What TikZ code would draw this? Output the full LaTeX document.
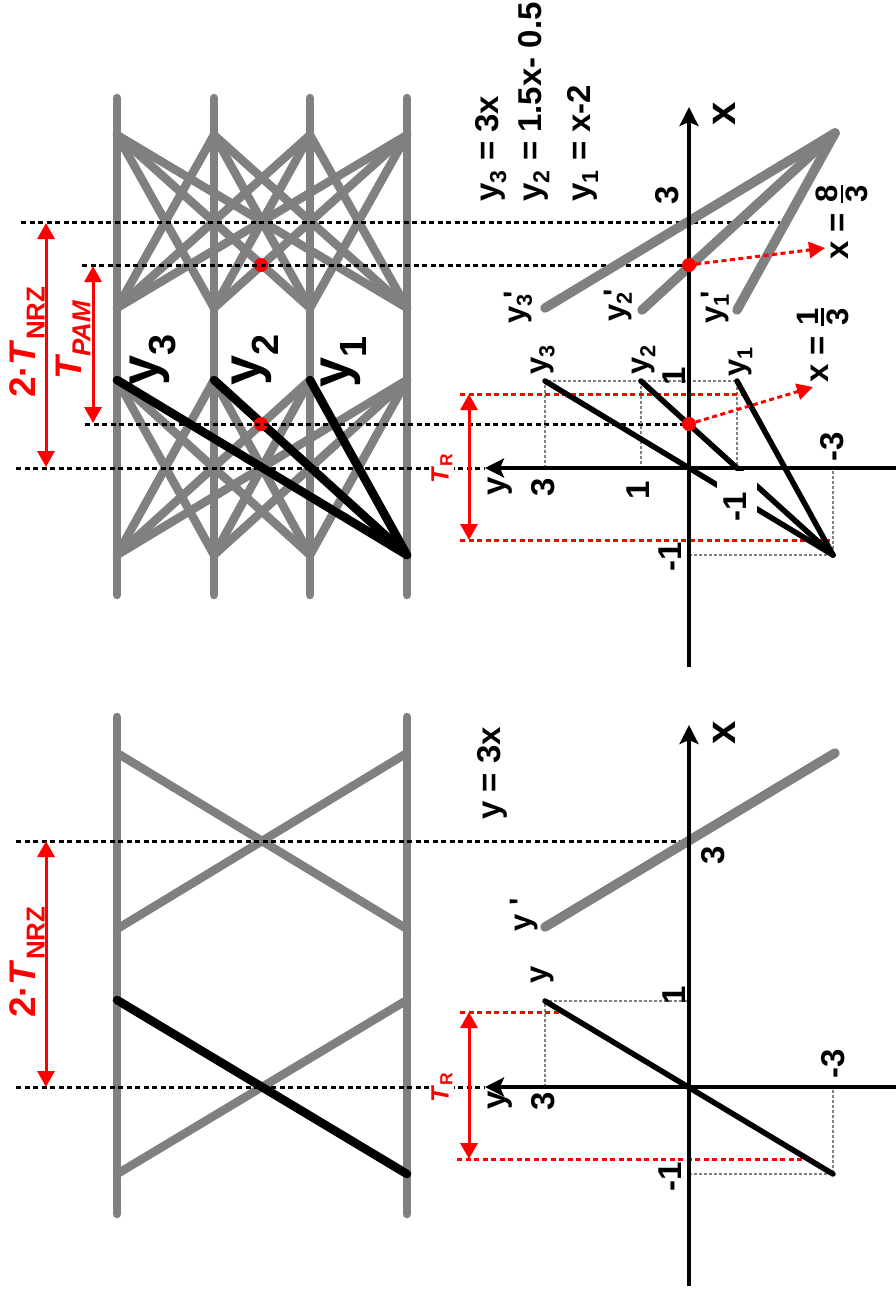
\documentclass[tikz,border=0pt]{standalone}
\usepackage{amsmath}
\usepackage{fontspec}
\setmainfont{Liberation Sans}
\usetikzlibrary{arrows.meta}
\newcommand{\fs}[1]{\fontsize{#1}{#1}\selectfont}
\newcommand{\vfrac}[2]{$\genfrac{}{}{2.5pt}{}{\hbox{\fs{31}\bfseries #1}}{\hbox{\fs{31}\bfseries #2}}$}

\begin{document}
\begin{tikzpicture}[x=1pt, y=-1pt,
  eye/.style={gray, line width=8.5pt, line cap=round},
  eyehit/.style={black, line width=8.5pt, line cap=round},
  prime/.style={gray, line width=9.5pt, line cap=round},
  plain/.style={black, line width=5.5pt, line cap=round},
  axis/.style={line width=3.5pt, -{Stealth[width=19pt, length=19pt, inset=4pt]}},
  tmark/.style={line width=3pt, dash pattern=on 5pt off 3.5pt},
  rmark/.style={red, line width=3pt, dash pattern=on 5pt off 3.5pt},
  guide/.style={gray, line width=1.8pt, dash pattern=on 3pt off 2pt},
  span/.style={red, line width=3pt,
    {Triangle[width=17pt, length=16pt]}-{Triangle[width=17pt, length=16pt]}},
  hint/.style={red, line width=3pt, dash pattern=on 5pt off 3.5pt,
    -{Triangle[width=16pt, length=16pt]}},
  dot/.style={circle, fill=red, inner sep=0pt, minimum size=14pt},
  lbl/.style={rotate=90, inner sep=1pt, font=\bfseries\fs{33}},
  big/.style={lbl, font=\bfseries\fs{54}},
  tag/.style={lbl, font=\bfseries\fs{31}},
  period/.style={lbl, text=red, font=\bfseries\fs{37}},
  rise/.style={lbl, text=red, fill=white, font=\bfseries\fs{25}, inner sep=2pt}
]
\useasboundingbox (0,0) rectangle (896,1293);

% PAM4 eye
\foreach \a in {117,214,310,407} {
  \draw[eye] (\a,98) -- (\a,595);
  \foreach \b in {117,214,310,407} {
    \draw[eye] (\a,135) -- (\b,308);
    \draw[eye] (\a,380) -- (\b,555);
  }
}
\foreach \a in {117,214,310}
  \draw[eyehit] (\a,380) -- (407,555);
\node[dot] (c1) at (261,265) {};
\node[dot] (c2) at (261,424) {};

% NRZ eye
\foreach \a/\b in {117/407,407/117} {
  \draw[eye] (\a,717) -- (\a,1214);
  \draw[eye] (\a,753) -- (\b,929);
  \draw[eye] (\a,1000) -- (\b,1174);
}
\draw[eyehit] (117,1000) -- (407,1174);

% time marks
\draw[tmark] (21,222) -- (780,222);
\draw[tmark] (82,265) -- (689,265);
\draw[tmark] (85,424) -- (689,424);
\draw[tmark] (16,468) -- (485,468);
\draw[tmark] (16,841) -- (680,841);
\draw[tmark] (16,1087) -- (485,1087);

\draw[span] (46,223) -- (46,467);
\draw[span] (93,266) -- (93,423);
\draw[span] (46,841) -- (46,1087);
\node[period] (tnrz1) at (27,342) {2·\textit{T}\textsubscript{NRZ}};
\node[period] (tpam) at (73,340) {\textit{T\textsubscript{PAM}}};
\node[period] (tnrz2) at (27,962) {2·\textit{T}\textsubscript{NRZ}};

\node[big] (e3) at (153,360) {y\textsubscript{3}};
\node[big] (e2) at (255,360) {y\textsubscript{2}};
\node[big] (e1) at (344,362) {y\textsubscript{1}};

% upper plot
\coordinate (o1) at (689,468);
\coordinate (lo1) at (833,555);
\coordinate (hi1) at (835,133);
\draw[guide] (545,468) -- (545,381) -- (737,381) -- (737,468);
\draw[guide] (641,381) -- (641,468);
\draw[guide] (689,555) -- (833,555) -- (833,468);
\draw[rmark] (460,394) -- (745,394);
\draw[rmark] (460,540) -- (830,540);
\draw[span] (469,394) -- (469,540);
\node[rise] (tr1) at (442,468) {\textit{T}\textsubscript{R}};

\foreach \a in {545,641,737}
  \draw[plain] (\a,381) -- (lo1);
\draw[prime] (545,308) -- (hi1);
\draw[prime] (642,310) -- (hi1);
\draw[prime] (737,310) -- (hi1);

% gap for the -1 tick
\fill[white] (717,471) rectangle (757,520);

\draw[axis] (689,667) -- (689,107);
\draw[axis] (896,468) -- (485,468);
\node[lbl, font=\bfseries\fs{42}] (ax1) at (724,114) {x};
\node[lbl] (ay1) at (500,486) {y};

\node[lbl] (x3a) at (667,195) {3};
\node[lbl] (x1a) at (674,376) {1};
\node[lbl] (xma) at (670,557) {-1};
\node[lbl] (y3a) at (543,487) {3};
\node[lbl] (y1a) at (638,490) {1};
\node[lbl] (yma) at (735,507) {-1};
\node[lbl] (ymb) at (832,447) {-3};

\node[lbl, anchor=west] (eq3) at (491,203) {y\textsubscript{3} = 3x};
\node[lbl, anchor=west] (eq2) at (534,203) {y\textsubscript{2} = 1.5x- 0.5};
\node[lbl, anchor=west] (eq1) at (583,203) {y\textsubscript{1} = x-2};

\node[tag] (l3) at (543,360) {y\textsubscript{3}};
\node[tag] (l2) at (644,360) {y\textsubscript{2}};
\node[tag] (l1) at (741,362) {y\textsubscript{1}};
\node[tag] (p3) at (518,307) {y\textsubscript{3}\kern-0.15em\textquotesingle};
\node[tag] (p2) at (618,305) {y\textsubscript{2}\kern-0.15em\textquotesingle};
\node[tag] (p1) at (715,307) {y\textsubscript{1}\kern-0.15em\textquotesingle};

\node[dot] (g1) at (689,424) {};
\node[dot] (g2) at (689,265) {};
\node[lbl] (f1) at (823,345) {x = \vfrac{1}{3}};
\node[lbl] (f2) at (842,222) {x = \vfrac{8}{3}};
\draw[hint] (g1) -- (813,387);
\draw[hint] (g2) -- (825,248);

% lower plot
\coordinate (o2) at (689,1087);
\draw[guide] (545,1087) -- (545,1001) -- (689,1001);
\draw[guide] (689,1174) -- (833,1174) -- (833,1087);
\draw[rmark] (460,1012) -- (567,1012);
\draw[rmark] (457,1159) -- (810,1159);
\draw[span] (469,1012) -- (469,1159);
\node[rise] (tr2) at (442,1087) {\textit{T}\textsubscript{R}};

\draw[plain] (545,1001) -- (833,1174);
\draw[prime] (545,927) -- (835,753);

\draw[axis] (689,1286) -- (689,725);
\draw[axis] (896,1087) -- (485,1087);
\node[lbl, font=\bfseries\fs{42}] (ax2) at (724,733) {x};
\node[lbl] (ay2) at (500,1100) {y};

\node[lbl] (x3b) at (713,855) {3};
\node[lbl] (x1b) at (674,995) {1};
\node[lbl] (xmb) at (670,1177) {-1};
\node[lbl] (y3b) at (543,1101) {3};
\node[lbl] (ymc) at (833,1064) {-3};

\node[lbl, anchor=west] (eq0) at (492,821) {y = 3x};
\node[tag] (l0) at (543,975) {y};
\node[tag] (p0) at (524,915) {y \textquotesingle};
\end{tikzpicture}
\end{document}
